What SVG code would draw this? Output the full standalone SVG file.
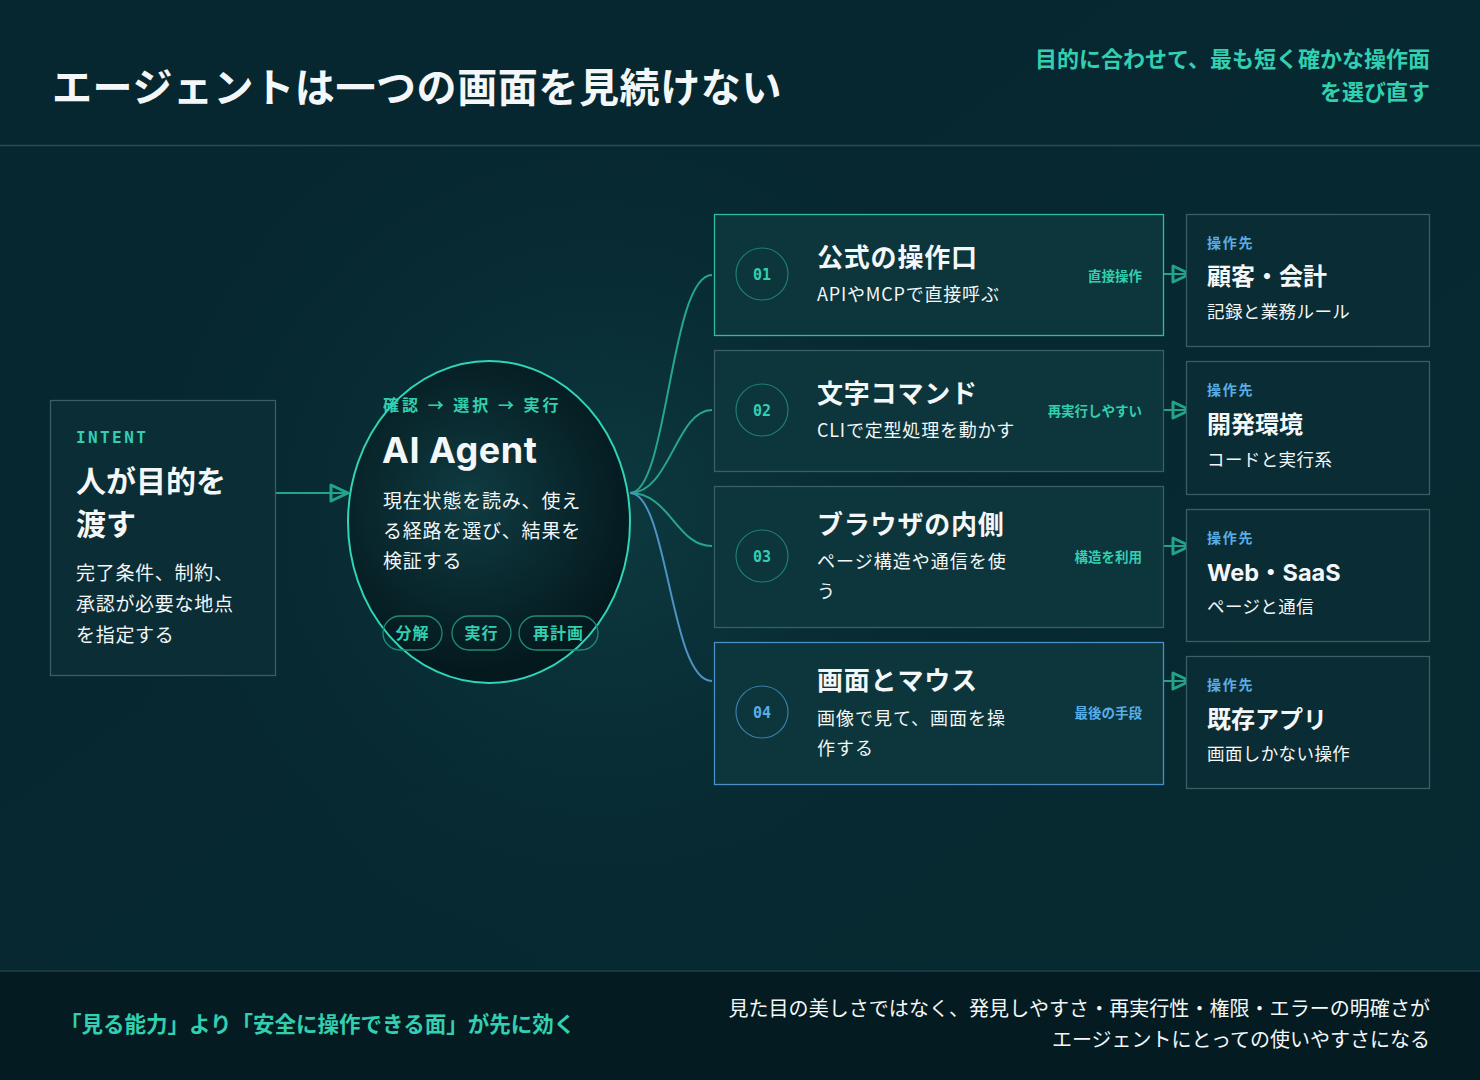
<svg xmlns="http://www.w3.org/2000/svg" width="1480" height="1080" viewBox="0 0 1480 1080">
<defs>
<linearGradient id="bg" x1="0" y1="0" x2="1" y2="1">
<stop offset="0" stop-color="#062630"/>
<stop offset="1" stop-color="#072a31"/>
</linearGradient>
<radialGradient id="glow" cx="600" cy="520" r="520" gradientUnits="userSpaceOnUse">
<stop offset="0" stop-color="#0d3a40"/>
<stop offset="1" stop-color="#072630" stop-opacity="0"/>
</radialGradient>
<radialGradient id="agentFill" cx="470" cy="500" r="170" gradientUnits="userSpaceOnUse">
<stop offset="0" stop-color="#0f3c42"/>
<stop offset="1" stop-color="#04191e"/>
</radialGradient>
<marker id="tri" markerUnits="userSpaceOnUse" markerWidth="22" markerHeight="20" refX="19" refY="10" orient="auto" viewBox="0 0 22 20">
<path d="M2,2 L19,10 L2,18 Z" fill="none" stroke="#22a48a" stroke-width="3" stroke-linejoin="round"/>
</marker>
<style>
.jp{font-family:"Noto Sans CJK JP","Noto Sans",sans-serif}
.en{font-family:Inter,"Noto Sans CJK JP",sans-serif}
.mono{font-family:"DejaVu Sans Mono","Liberation Mono",monospace;font-weight:bold}
.teal{fill:#32cfb0}
.blue{fill:#5aaee6}
.white{fill:#f4f7f7}
.b{font-weight:bold}
.row{fill:#0c353c;stroke:#3b5e64;stroke-width:1.3}
.dest{fill:#0a2c34;stroke:#3b5e64;stroke-width:1.3}
.num{fill:none;stroke:#1f7f70;stroke-width:1.2}
.pill{fill:none;stroke:#1f8a76;stroke-width:1.3}
.conn{fill:none;stroke-width:2}
</style>
</defs>
<rect width="1480" height="1080" fill="url(#bg)"/>
<rect x="0" y="146" width="1480" height="825" fill="url(#glow)"/>
<line x1="0" y1="145.5" x2="1480" y2="145.5" stroke="#2b4c54" stroke-width="1.3"/>
<g id="header">
<text class="jp b white" x="52" y="102" font-size="40" letter-spacing="0.6">エージェントは一つの画面を見続けない</text>
<text class="jp b teal" x="1430" y="67" font-size="22" text-anchor="end">目的に合わせて、最も短く確かな操作面</text>
<text class="jp b teal" x="1430" y="100" font-size="22" text-anchor="end">を選び直す</text>
</g>
<g id="connectors">
<line x1="276" y1="493" x2="348" y2="493" stroke="#22a48a" stroke-width="2" marker-end="url(#tri)"/>
<path class="conn" stroke="#27a68d" d="M630,493 C668,493 670,275 712,275"/>
<path class="conn" stroke="#27a68d" d="M630,493 C670,493 676,410 712,410"/>
<path class="conn" stroke="#27a68d" d="M630,493 C670,493 676,546 712,546"/>
<path class="conn" stroke="#4d92c2" d="M630,493 C668,493 670,681 712,681"/>
<line x1="1163" y1="274" x2="1190" y2="274" stroke="#22a48a" stroke-width="2" marker-end="url(#tri)"/>
<line x1="1163" y1="410" x2="1190" y2="410" stroke="#22a48a" stroke-width="2" marker-end="url(#tri)"/>
<line x1="1163" y1="546" x2="1190" y2="546" stroke="#22a48a" stroke-width="2" marker-end="url(#tri)"/>
<line x1="1163" y1="681" x2="1190" y2="681" stroke="#22a48a" stroke-width="2" marker-end="url(#tri)"/>
</g>
<g id="intent">
<rect x="50.5" y="400.5" width="225" height="275" fill="#0b2d35" stroke="#3b5e64" stroke-width="1.3"/>
<text class="mono teal" x="76" y="443" font-size="16" letter-spacing="2.4">INTENT</text>
<text class="jp b white" x="76" y="492" font-size="30">人が目的を</text>
<text class="jp b white" x="76" y="535" font-size="30">渡す</text>
<text class="jp white" x="76" y="580" font-size="19" letter-spacing="0.7">完了条件、制約、</text>
<text class="jp white" x="76" y="611" font-size="19" letter-spacing="0.7">承認が必要な地点</text>
<text class="jp white" x="76" y="642" font-size="19" letter-spacing="0.7">を指定する</text>
</g>
<g id="agent">
<ellipse cx="489" cy="522" rx="141" ry="161" fill="url(#agentFill)" stroke="#2fd5b5" stroke-width="2"/>
<text class="jp b teal" x="383" y="411" font-size="16" letter-spacing="3">確認 → 選択 → 実行</text>
<text class="en b white" x="382" y="463" font-size="36" letter-spacing="0.5">AI Agent</text>
<text class="jp white" x="383" y="508" font-size="19" letter-spacing="0.8">現在状態を読み、使え</text>
<text class="jp white" x="383" y="538" font-size="19" letter-spacing="0.8">る経路を選び、結果を</text>
<text class="jp white" x="383" y="568" font-size="19" letter-spacing="0.8">検証する</text>
<rect class="pill" x="383" y="616" width="59" height="34" rx="17"/>
<rect class="pill" x="452" y="616" width="59" height="34" rx="17"/>
<rect class="pill" x="519" y="616" width="79" height="34" rx="17"/>
<text class="jp b teal" x="412.5" y="639" font-size="16" text-anchor="middle" letter-spacing="1">分解</text>
<text class="jp b teal" x="481.5" y="639" font-size="16" text-anchor="middle" letter-spacing="1">実行</text>
<text class="jp b teal" x="558.5" y="639" font-size="16" text-anchor="middle" letter-spacing="1">再計画</text>
</g>
<g id="route-01">
<rect class="row" x="714.5" y="214.5" width="449" height="121" style="stroke:#2bbfa0"/>
<circle class="num" cx="762" cy="274" r="26"/>
<text class="mono teal" x="762" y="279.5" font-size="15" text-anchor="middle">01</text>
<text class="jp b white" x="817" y="267" font-size="26" letter-spacing="0.8">公式の操作口</text>
<text class="jp white" x="817" y="301" font-size="18" letter-spacing="0.8">APIやMCPで直接呼ぶ</text>
<text class="jp b teal" x="1142" y="281" font-size="13.5" text-anchor="end">直接操作</text>
</g>
<g id="route-02">
<rect class="row" x="714.5" y="350.5" width="449" height="121"/>
<circle class="num" cx="762" cy="410" r="26"/>
<text class="mono teal" x="762" y="415.5" font-size="15" text-anchor="middle">02</text>
<text class="jp b white" x="817" y="403" font-size="26" letter-spacing="0.8">文字コマンド</text>
<text class="jp white" x="817" y="437" font-size="18" letter-spacing="0.8">CLIで定型処理を動かす</text>
<text class="jp b teal" x="1142" y="416" font-size="13.5" text-anchor="end">再実行しやすい</text>
</g>
<g id="route-03">
<rect class="row" x="714.5" y="486.5" width="449" height="141"/>
<circle class="num" cx="762" cy="556" r="26"/>
<text class="mono teal" x="762" y="561.5" font-size="15" text-anchor="middle">03</text>
<text class="jp b white" x="817" y="534" font-size="26" letter-spacing="0.8">ブラウザの内側</text>
<text class="jp white" x="817" y="568" font-size="18" letter-spacing="1">ページ構造や通信を使</text>
<text class="jp white" x="817" y="598" font-size="18" letter-spacing="1">う</text>
<text class="jp b teal" x="1142" y="562" font-size="13.5" text-anchor="end">構造を利用</text>
</g>
<g id="route-04">
<rect class="row" x="714.5" y="642.5" width="449" height="142" style="stroke:#4a90c8"/>
<circle class="num" cx="762" cy="712" r="26" style="stroke:#3b7fa8"/>
<text class="mono blue" x="762" y="717.5" font-size="15" text-anchor="middle">04</text>
<text class="jp b white" x="817" y="690" font-size="26" letter-spacing="0.8">画面とマウス</text>
<text class="jp white" x="817" y="725" font-size="18" letter-spacing="1">画像で見て、画面を操</text>
<text class="jp white" x="817" y="755" font-size="18" letter-spacing="1">作する</text>
<text class="jp b blue" x="1142" y="718" font-size="13.5" text-anchor="end">最後の手段</text>
</g>
<g id="target-1">
<rect class="dest" x="1186.5" y="214.5" width="243" height="132"/>
<text class="jp b blue" x="1207" y="248" font-size="14" letter-spacing="1.8">操作先</text>
<text class="jp b white" x="1207" y="285" font-size="24">顧客・会計</text>
<text class="jp white" x="1207" y="318" font-size="17.5" letter-spacing="0.4">記録と業務ルール</text>
</g>
<g id="target-2">
<rect class="dest" x="1186.5" y="361.5" width="243" height="133"/>
<text class="jp b blue" x="1207" y="395" font-size="14" letter-spacing="1.8">操作先</text>
<text class="jp b white" x="1207" y="433" font-size="24">開発環境</text>
<text class="jp white" x="1207" y="466" font-size="17.5" letter-spacing="0.4">コードと実行系</text>
</g>
<g id="target-3">
<rect class="dest" x="1186.5" y="509.5" width="243" height="132"/>
<text class="jp b blue" x="1207" y="543" font-size="14" letter-spacing="1.8">操作先</text>
<text class="en b white" x="1207" y="581" font-size="23.5">Web・SaaS</text>
<text class="jp white" x="1207" y="613" font-size="17.5" letter-spacing="0.4">ページと通信</text>
</g>
<g id="target-4">
<rect class="dest" x="1186.5" y="656.5" width="243" height="132"/>
<text class="jp b blue" x="1207" y="690" font-size="14" letter-spacing="1.8">操作先</text>
<text class="jp b white" x="1207" y="728" font-size="24">既存アプリ</text>
<text class="jp white" x="1207" y="760" font-size="17.5" letter-spacing="0.4">画面しかない操作</text>
</g>
<g id="footer">
<rect x="0" y="971" width="1480" height="109" fill="#041b22"/>
<line x1="0" y1="971" x2="1480" y2="971" stroke="#1f4148" stroke-width="1.3"/>
<text class="jp b teal" x="60" y="1032" font-size="21.5">「見る能力」より「安全に操作できる面」が先に効く</text>
<text class="jp white" x="1430" y="1016" font-size="20" letter-spacing="0.05" text-anchor="end">見た目の美しさではなく、発見しやすさ・再実行性・権限・エラーの明確さが</text>
<text class="jp white" x="1430" y="1047" font-size="20" text-anchor="end">エージェントにとっての使いやすさになる</text>
</g>
</svg>
